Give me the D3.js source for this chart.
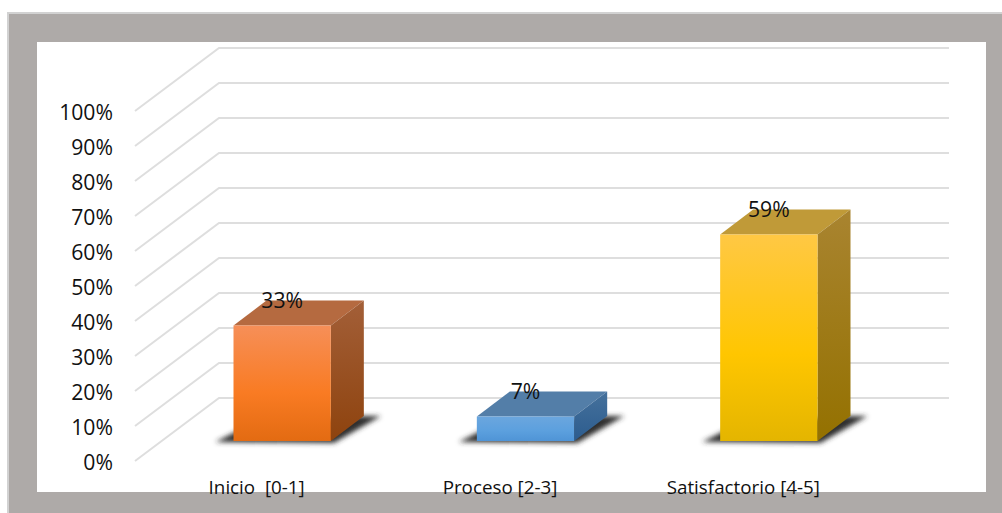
<!DOCTYPE html>
<html lang="es">
<head>
    <meta charset="UTF-8">
    <title>Niveles</title>
    <script src="https://d3js.org/d3.v7.min.js"></script>
    <style>
        html, body { margin: 0; padding: 0; background: #fff; overflow: hidden; }
        svg { display: block; }
        text { font-family: "Open Sans", sans-serif; fill: #111; }
        .axis path, .axis line { display: none; }
        .grid { fill: none; stroke: #dedede; stroke-width: 2; }
    </style>
</head>
<body>
    <svg width="1002" height="513"></svg>
    <script>
        const categories = ["Inicio  [0-1]", "Proceso [2-3]", "Satisfactorio [4-5]"];
        const values = [33, 7, 59];
        const yTicks = [0, 10, 20, 30, 40, 50, 60, 70, 80, 90, 100];
        const frontColors = [
            ["#f68f58", "#f97b23", "#e36b12"],
            ["#6ba6de", "#5ca0de", "#4f94d6"],
            ["#ffc844", "#ffc600", "#e4b500"]
        ];
        const topColors = ["#b56a40", "#537ea8", "#c09a38"];
        const sideColors = [
            ["#a35f38", "#8e430e"],
            ["#45719c", "#2c5c8e"],
            ["#a98430", "#947100"]
        ];

        const svg = d3.select("svg");
        const defs = svg.append("defs");

        // Marco gris y fondo blanco
        svg.append("rect").attr("x", 7).attr("y", 12).attr("width", 995).attr("height", 501).attr("fill", "#d2d2d2");
        svg.append("rect").attr("x", 9).attr("y", 14).attr("width", 993).attr("height", 499).attr("fill", "#aeaaa8");
        svg.append("rect").attr("x", 37).attr("y", 42).attr("width", 949).attr("height", 450).attr("fill", "#fff");

        // Escalas: plano frontal del suelo
        const x = d3.scaleBand().domain(categories).range([135, 865]).paddingInner(0.6).paddingOuter(0.3);
        const xLabel = d3.scaleBand().domain(categories).range([135, 865]);
        const y = d3.scaleLinear().domain([0, 100]).range([461, 111]);

        // Profundidad de la rejilla y de las barras
        const gridDepth = { x: 84, y: -63 };
        const gridRight = 949;
        const barShift = { x: 25.5, y: -20 };
        const barDepth = { x: 33, y: -25 };

        // Rejilla
        svg.append("g").selectAll("path")
            .data(yTicks)
            .enter().append("path")
            .attr("class", "grid")
            .attr("d", d => d3.line()([
                [x.range()[0], y(d)],
                [x.range()[0] + gridDepth.x, y(d) + gridDepth.y],
                [gridRight, y(d) + gridDepth.y]
            ]));

        // Eje Y
        svg.append("g")
            .attr("class", "axis")
            .attr("transform", "translate(122,0)")
            .call(d3.axisLeft(y).tickValues(yTicks).tickFormat(d => d + "%").tickSize(0))
            .call(g => g.selectAll("text").attr("x", -9).attr("dy", "0.41em").style("font-size", "21.2px"))
            .attr("font-family", null).attr("font-size", null);

        // Eje X
        svg.append("g")
            .attr("class", "axis")
            .attr("transform", "translate(0,494)")
            .call(d3.axisBottom(xLabel).tickSize(0))
            .call(g => g.selectAll("text").attr("y", 0).attr("dy", 0).style("font-size", "18.8px").style("white-space", "pre"))
            .attr("font-family", null).attr("font-size", null);

        // Gradientes
        categories.forEach((c, i) => {
            const f = defs.append("linearGradient").attr("id", "front" + i).attr("x1", 0).attr("y1", 0).attr("x2", 0).attr("y2", 1);
            [0, 0.58, 1].forEach((o, k) => f.append("stop").attr("offset", o).attr("stop-color", frontColors[i][k]));
            const s = defs.append("linearGradient").attr("id", "side" + i).attr("x1", 0).attr("y1", 0).attr("x2", 0).attr("y2", 1);
            [0, 1].forEach((o, k) => s.append("stop").attr("offset", o).attr("stop-color", sideColors[i][k]));
        });
        defs.append("filter").attr("id", "blur").attr("x", "-20%").attr("y", "-40%").attr("width", "140%").attr("height", "180%")
            .append("feGaussianBlur").attr("stdDeviation", 2.6);

        // Barras
        const barHeight = d => y(0) - y(d);
        const bars = svg.append("g").selectAll("g")
            .data(values)
            .enter().append("g")
            .attr("transform", (d, i) => "translate(" + (x(categories[i]) + barShift.x) + "," + (y(0) + barShift.y) + ")");
        const w = x.bandwidth();

        // Sombra
        bars.append("path")
            .attr("fill", "#2e2e2e")
            .attr("filter", "url(#blur)")
            .attr("d", d3.line()([
                [-18, 1], [w + 3, 2],
                [w + barDepth.x + 17, barDepth.y], [w + barDepth.x - 4, barDepth.y], [16, -16]
            ]) + "Z");

        bars.append("path")
            .attr("fill", (d, i) => topColors[i])
            .attr("d", d => d3.line()([
                [0, -barHeight(d)], [w, -barHeight(d)],
                [w + barDepth.x, -barHeight(d) + barDepth.y], [barDepth.x, -barHeight(d) + barDepth.y]
            ]) + "Z");

        bars.append("path")
            .attr("fill", (d, i) => "url(#side" + i + ")")
            .attr("d", d => d3.line()([
                [w, -barHeight(d)], [w + barDepth.x, -barHeight(d) + barDepth.y],
                [w + barDepth.x, barDepth.y], [w, 0]
            ]) + "Z");

        bars.append("rect")
            .attr("fill", (d, i) => "url(#front" + i + ")")
            .attr("width", w)
            .attr("y", d => -barHeight(d))
            .attr("height", d => barHeight(d));

        // Etiquetas de datos
        bars.append("text")
            .attr("x", w / 2)
            .attr("y", d => -barHeight(d) - 18)
            .attr("text-anchor", "middle")
            .style("font-size", "21.2px")
            .text(d => d + "%");
    </script>
</body>
</html>
